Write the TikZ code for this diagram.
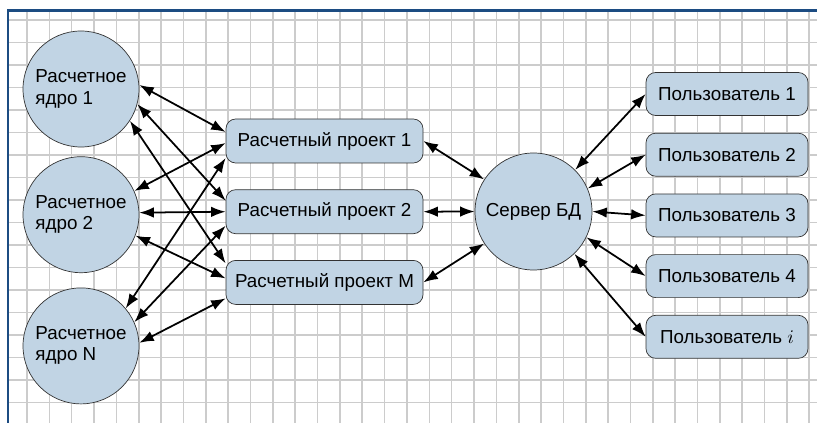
\documentclass[tikz,border=0pt]{standalone}
\usepackage{fontspec}
\setmainfont{Liberation Sans}
\usetikzlibrary{arrows.meta,calc,positioning}
\definecolor{Frame}{HTML}{1C4C82}
\definecolor{Cell}{HTML}{CCCCCC}
\definecolor{NodeFill}{HTML}{C1D4E4}
\definecolor{Edge}{HTML}{333333}

\begin{document}
\begin{tikzpicture}[>={Latex[length=2.9mm,width=2.1mm]},
    font=\fontsize{10.7}{12}\selectfont,
    core/.style={circle,draw=Edge,fill=NodeFill,minimum size=2.32cm,inner sep=0pt,align=left},
    proj/.style={draw=Edge,rounded corners=5.5pt,fill=NodeFill,minimum width=3.94cm,minimum height=0.88cm},
    user/.style={draw=Edge,rounded corners=5.5pt,fill=NodeFill,minimum width=3.24cm,minimum height=0.86cm},
    link/.style={<->,line width=1pt}]
      \useasboundingbox (0,0) rectangle (16.34,8.46);
      \draw[Cell,line width=0.9pt,xstep=0.447,ystep=0.45,shift={(0.54,0.41)}]
        (-0.38,-0.41) grid (15.8,7.83);
      \draw[Frame,line width=1.7pt] (0.16,0) -- (0.16,8.24) -- (16.6,8.24);

      \node[core] (core1) at (1.62,6.68) {Расчетное\\ядро 1};
      \node[core,below=0.18cm of core1] (core2) {Расчетное\\ядро 2};
      \node[core,below=0.29cm of core2] (coreN) {Расчетное\\ядро N};

      \node[proj] (proj1) at (6.49,5.64) {Расчетный проект 1};
      \node[proj,below=0.52cm of proj1] (proj2) {Расчетный проект 2};
      \node[proj,below=0.52cm of proj2] (projM) {Расчетный проект M};

      \node[core,minimum size=2.34cm] (server) at (10.67,4.23) {Сервер БД};

      \node[user] (user1) at (14.54,6.58) {Пользователь 1};
      \node[user,below=0.34cm of user1] (user2) {Пользователь 2};
      \node[user,below=0.34cm of user2] (user3) {Пользователь 3};
      \node[user,below=0.34cm of user3] (user4) {Пользователь 4};
      \node[user,below=0.34cm of user4] (useri) {Пользователь $i$};

      \draw[link] (core1.4) -- ([yshift=0.18cm]proj1.west);
      \draw[link] (core1.-15) -- ([yshift=0.22cm]proj2.west);
      \draw[link] (core1.-33) -- ([yshift=0.38cm]projM.west);
      \draw[link] (core2.24) -- ([yshift=-0.04cm]proj1.west);
      \draw[link] (core2.2) -- (proj2.west);
      \draw[link] (core2.-21) -- ([yshift=0.08cm]projM.west);
      \draw[link] (coreN.40) -- ([yshift=-0.34cm]proj1.west);
      \draw[link] (coreN.24) -- ([yshift=-0.28cm]proj2.west);
      \draw[link] (coreN.3) -- ([yshift=-0.32cm]projM.west);

      \draw[link] (proj1.east) -- (server.147);
      \draw[link] (proj2.east) -- (server.west);
      \draw[link] (projM.east) -- (server.213);

      \draw[link] (server.45) -- (user1.west);
      \draw[link] (server.23) -- (user2.west);
      \draw[link] (server.0) -- (user3.west);
      \draw[link] (server.-26) -- (user4.west);
      \draw[link] (server.-46) -- (useri.west);
    \end{tikzpicture}
\end{document}
